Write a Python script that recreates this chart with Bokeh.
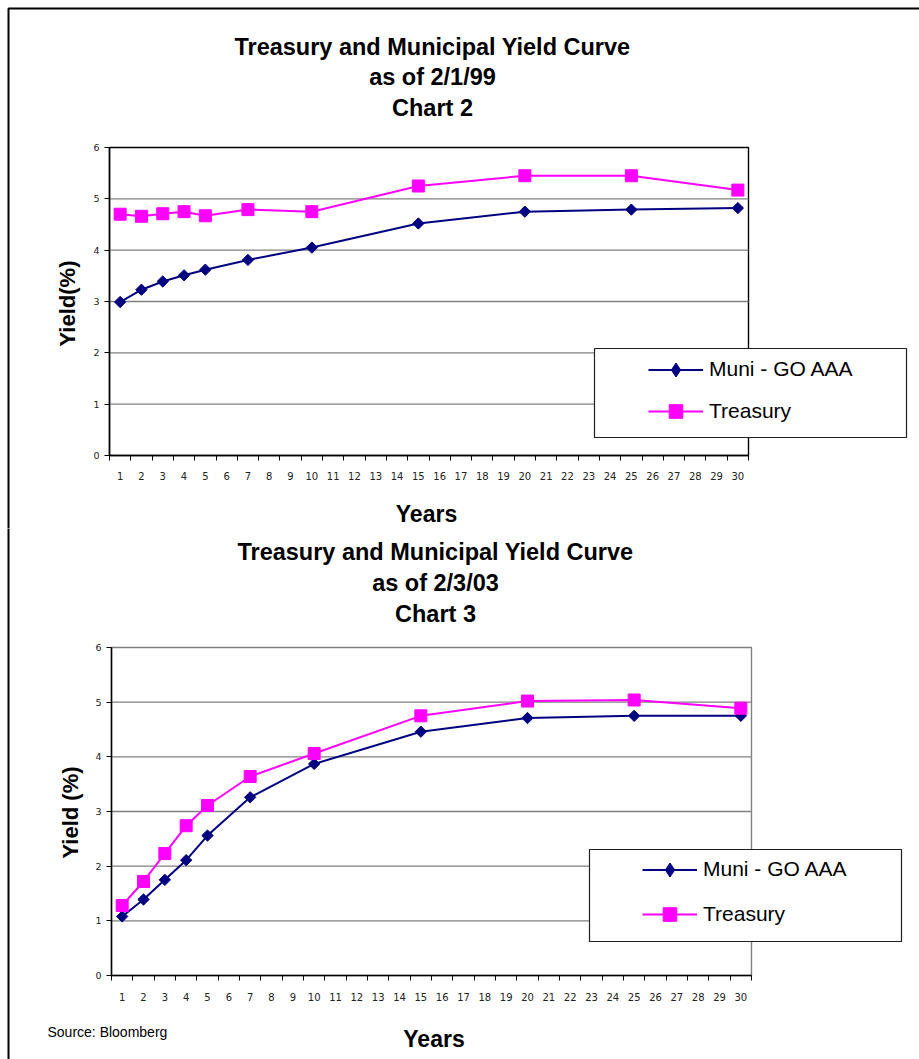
import math
from bokeh.plotting import figure
from bokeh.models import Label, BoxAnnotation, Legend, LegendItem, FixedTicker, Range1d
from bokeh.layouts import column
from bokeh.embed import file_html
from bokeh.resources import INLINE

# ---------------- data ----------------
years = [1, 2, 3, 4, 5, 7, 10, 15, 20, 25, 30]
muni_1999 = [2.99, 3.23, 3.39, 3.51, 3.62, 3.81, 4.05, 4.52, 4.75, 4.79, 4.82]
treas_1999 = [4.70, 4.66, 4.71, 4.75, 4.67, 4.79, 4.75, 5.25, 5.45, 5.45, 5.17]
muni_2003 = [1.08, 1.39, 1.75, 2.11, 2.56, 3.26, 3.87, 4.46, 4.71, 4.75, 4.75]
treas_2003 = [1.28, 1.72, 2.23, 2.74, 3.11, 3.64, 4.06, 4.75, 5.02, 5.04, 4.89]
x_ticks = list(range(1, 31))
y_ticks = [0, 1, 2, 3, 4, 5, 6]
series_names = ["Muni - GO AAA", "Treasury"]
titles_1999 = ["Treasury and Municipal Yield Curve", "as of 2/1/99", "Chart 2"]
titles_2003 = ["Treasury and Municipal Yield Curve", "as of 2/3/03", "Chart 3"]

NAVY = "#000080"
MAGENTA = "#FF00FF"
BOLD_FONT = "Liberation Sans"
X_MIN, X_MAX = 0.5, 30.5
Y_MIN, Y_MAX = 0, 6


def make_chart(cfg, muni, treas):
    top, H = cfg["page_top"], cfg["height"]
    fl, ft, fw, fh = cfg["area"]          # visible plot area, page pixels
    fb = ft + fh

    def X(px):
        return X_MIN + (px - fl) / fw * (X_MAX - X_MIN)

    def Y(py):
        return Y_MIN + (fb - py) / fh * (Y_MAX - Y_MIN)

    p = figure(width=919, height=H, output_backend="svg", toolbar_location=None,
               x_range=Range1d(X(0), X(919)), y_range=Range1d(Y(top + H), Y(top)),
               min_border=0, min_border_left=0, min_border_right=0,
               min_border_top=0, min_border_bottom=0)
    p.title.visible = False
    p.background_fill_color = "white"
    p.border_fill_color = "white"
    p.outline_line_color = None
    p.xgrid.visible = False
    p.ygrid.visible = False

    # axes, fixed inside the canvas
    xa = p.xaxis[0]
    xa.fixed_location = Y_MIN
    xa.bounds = (X_MIN, X_MAX)
    xa.ticker = FixedTicker(ticks=x_ticks, minor_ticks=[i + 0.5 for i in range(0, 31)])
    xa.major_tick_out = 0
    xa.major_tick_in = 0
    xa.minor_tick_out = 5
    xa.minor_tick_in = 0
    xa.minor_tick_line_color = "black"
    xa.axis_line_color = "black"
    xa.axis_line_width = 1.5
    xa.major_label_standoff = cfg["xstand"]
    xa.major_label_text_font = "DejaVu Sans"
    xa.major_label_text_font_size = "10px"
    xa.major_label_text_color = "#222222"

    ya = p.yaxis[0]
    ya.fixed_location = X_MIN
    ya.bounds = (Y_MIN, Y_MAX)
    ya.ticker = FixedTicker(ticks=y_ticks, minor_ticks=[])
    ya.major_tick_out = 5
    ya.major_tick_in = 0
    ya.major_tick_line_color = "black"
    ya.axis_line_color = "black"
    ya.axis_line_width = 1.5
    ya.major_label_standoff = 5
    ya.major_label_text_font = "DejaVu Sans"
    ya.major_label_text_font_size = "9.5px"
    ya.major_label_text_color = "#222222"

    # plot-area box (behind the axes) and horizontal gridlines
    p.add_layout(BoxAnnotation(left=X_MIN, right=X_MAX, bottom=Y_MIN, top=Y_MAX,
                               fill_alpha=0, line_color=cfg["outline"], line_alpha=1,
                               line_width=1.4, level="underlay"))
    grid_vals = y_ticks[1:-1]
    p.segment(x0=[X_MIN] * len(grid_vals), x1=[X_MAX] * len(grid_vals),
              y0=grid_vals, y1=grid_vals, line_color="#808080", line_width=1.4)

    # series
    l1 = p.line(years, muni, line_color=NAVY, line_width=2)
    p.scatter(years, muni, marker="square", angle=math.pi / 4, size=8,
              fill_color=NAVY, line_color=NAVY)
    l2 = p.line(years, treas, line_color=MAGENTA, line_width=2)
    s2 = p.scatter(years, treas, marker="square", size=12,
                   fill_color=MAGENTA, line_color=MAGENTA)
    # legend swatch for the diamond marker (one non-plotted point)
    s1_key = p.scatter(x=[float("nan")], y=[float("nan")], marker="diamond", size=14,
                       fill_color=NAVY, line_color=NAVY)

    # outer page frame (left and top edges)
    p.add_layout(BoxAnnotation(left=X(8), right=X(3000), top=Y(cfg["frame_top"]),
                               bottom=Y(5000), fill_alpha=0, line_color="black",
                               line_alpha=1, line_width=2))

    # legend box
    lx0, ly0, lx1, ly1 = cfg["legbox"]
    p.add_layout(BoxAnnotation(left=X(lx0), right=X(lx1), top=Y(ly0), bottom=Y(ly1),
                               fill_color="white", fill_alpha=1, line_color="#202020",
                               line_alpha=1, line_width=1.2))

    gx = cfg["leg_glyph_x"]
    for (label, rends, gh, cy) in [(series_names[0], [l1, s1_key], 35, cfg["leg_y"][0]),
                                   (series_names[1], [l2, s2], 34, cfg["leg_y"][1])]:
        leg = Legend(items=[LegendItem(label=label, renderers=rends)],
                     location=(gx, (top + H - cy) - gh / 2.0),
                     glyph_width=55, glyph_height=gh, label_height=gh,
                     label_standoff=6, padding=0, margin=0, spacing=0,
                     border_line_color=None, background_fill_alpha=0,
                     label_text_font="Liberation Sans", label_text_font_size="21px",
                     label_text_color="black")
        p.add_layout(leg)

    # titles and axis labels
    cx = cfg["title_cx"]
    for txt, by in zip(cfg["titles"], cfg["title_base"]):
        p.add_layout(Label(x=X(cx), y=Y(by), text=txt, text_align="center",
                           text_baseline="alphabetic", text_font=BOLD_FONT,
                           text_font_style="bold", text_font_size="23.5px",
                           text_color="black"))
    yx, yy = cfg["ylab"]
    p.add_layout(Label(x=X(yx), y=Y(yy), text=cfg["ylabel"], angle=math.pi / 2,
                       text_align="center", text_baseline="middle", text_font=BOLD_FONT,
                       text_font_style="bold", text_font_size="22px", text_color="black"))
    xx, xy = cfg["xlab"]
    p.add_layout(Label(x=X(xx), y=Y(xy), text="Years", text_align="center",
                       text_baseline="alphabetic", text_font=BOLD_FONT,
                       text_font_style="bold", text_font_size="23px", text_color="black"))
    if cfg.get("source"):
        sx, sy = cfg["source"]
        p.add_layout(Label(x=X(sx), y=Y(sy), text="Source: Bloomberg", text_align="left",
                           text_baseline="alphabetic", text_font="Liberation Sans",
                           text_font_size="14px", text_color="black"))
    return p


H1 = 528
cfg1 = dict(page_top=0, height=H1, area=(109, 147, 639, 308), outline="black",
            xstand=11, frame_top=8, legbox=(594, 348, 906, 437), leg_glyph_x=648,
            leg_y=(369, 411), title_cx=432, titles=titles_1999, title_base=(46, 76, 107),
            ylabel="Yield(%)", ylab=(67, 303), xlab=(426, 513), source=None)
cfg2 = dict(page_top=H1, height=1059 - H1, area=(111, 647, 640, 328), outline="#808080",
            xstand=12, frame_top=-2000, legbox=(589, 849, 901, 941), leg_glyph_x=642,
            leg_y=(869, 914), title_cx=435, titles=titles_2003, title_base=(551, 582, 613),
            ylabel="Yield (%)", ylab=(70, 812), xlab=(433.5, 1038), source=(47, 1031))

p1 = make_chart(cfg1, muni_1999, treas_1999)
p2 = make_chart(cfg2, muni_2003, treas_2003)

layout = column(p1, p2, spacing=0)
open("out.html", "w").write(file_html(layout, INLINE))
